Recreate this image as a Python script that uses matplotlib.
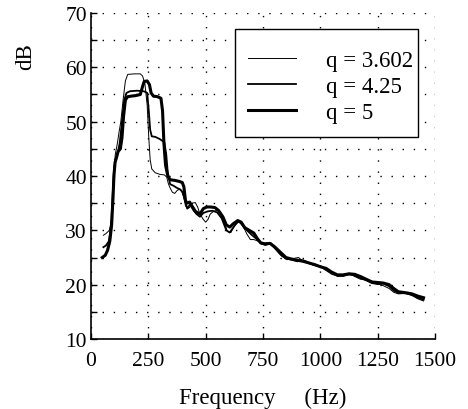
import numpy as np
import matplotlib.pyplot as plt
from matplotlib.ticker import MultipleLocator
from matplotlib.patches import Rectangle

# --- dados (frequência em Hz, nível em dB) ---
f_q3602 = [54, 65, 80, 90, 96, 100, 106, 115, 122, 130, 140, 150, 160, 190, 215, 225, 235, 245, 252, 258,
           265, 280, 300, 320, 330, 338, 345, 355, 365, 375, 385, 395, 405, 412, 420, 430, 440, 455, 465, 475,
           490, 500, 510, 520, 535, 550, 565, 580, 595, 610, 625, 645, 665, 680, 695, 710, 730, 745, 765, 785,
           805, 830, 855, 880, 905, 925, 950, 975, 1000, 1025, 1050, 1075, 1100, 1125, 1150, 1175, 1200, 1225,
           1250, 1275, 1300, 1320, 1340, 1375, 1400, 1425, 1450]
db_q3602 = [29.1, 29.4, 30, 32, 36, 41, 44, 46, 48, 50, 54, 57.5, 58.7, 58.8, 58.8, 58.4, 57, 53, 47, 43,
            41.3, 40.6, 40.3, 40.2, 39.8, 38.5, 37.8, 37, 36.8, 37.3, 37.6, 37.2, 36, 34.5, 34, 34.2, 35, 35.1, 34.3, 33,
            32, 31.5, 32, 33, 33.5, 33.7, 33.4, 31.5, 29.8, 29.6, 30.8, 31.6, 30.6, 29.3, 28.3, 28.3, 28, 27.5, 27.7, 27.7,
            26.8, 25.3, 24.6, 24.8, 25, 24.3, 23.9, 23.5, 23.3, 22.6, 21.9, 21.6, 21.9, 22.1, 21.5, 21, 20.9, 20.6,
            20.2, 19.8, 19.3, 18.6, 18.3, 18.4, 18, 17.4, 17.0]

f_q425 = [54, 65, 78, 88, 95, 100, 106, 115, 125, 135, 145, 155, 170, 200, 230, 245, 252, 258, 265, 280,
          300, 320, 328, 335, 345, 360, 375, 390, 400, 410, 420, 432, 445, 460, 475, 490, 510, 530, 550, 570,
          590, 605, 620, 640, 660, 680, 700, 720, 740, 760, 780, 800, 825, 850, 875, 900, 925, 950, 975, 1000,
          1025, 1050, 1075, 1100, 1125, 1150, 1175, 1200, 1225, 1250, 1275, 1300, 1320, 1340, 1375, 1400, 1425, 1450]
db_q425 = [26.9, 27.2, 28, 31, 37, 41, 43, 44, 46, 50, 54, 55.3, 55.6, 55.7, 55.6, 55.3, 52, 48.5, 47.3, 47.2,
           46.8, 46.2, 44, 40.5, 38.5, 38.2, 37.8, 37.5, 37, 35.5, 34, 34.8, 33.8, 33, 32.5, 33.2, 33.5, 33.6, 33.3, 32.2,
           30, 29.6, 30.5, 31.7, 31.2, 30, 29.2, 28.5, 27.6, 27.3, 27.6, 26.8, 25.6, 24.8, 24.6, 24.3, 24.5, 24, 23.6, 23.4,
           22.8, 22.2, 21.6, 21.6, 21.9, 21.7, 21.2, 20.8, 20.3, 20.1, 20.2, 19.7, 18.9, 18.5, 18.4, 18.1, 17.6, 17.2]

f_q5 = [49, 62, 72, 82, 90, 96, 100, 105, 112, 118, 128, 135, 142, 150, 160, 175, 195, 215, 225, 232,
        245, 255, 262, 272, 290, 305, 312, 318, 325, 335, 345, 365, 385, 398, 405, 412, 418, 430, 440, 455,
        475, 490, 505, 520, 540, 555, 575, 590, 605, 620, 640, 655, 670, 690, 710, 725, 740, 760, 780, 800,
        825, 850, 875, 900, 925, 950, 975, 1000, 1025, 1050, 1075, 1100, 1125, 1150, 1175, 1200, 1225, 1250,
        1275, 1300, 1320, 1340, 1375, 1400, 1425, 1450]
db_q5 = [25.0, 25.4, 26.3, 28, 31, 36, 40, 42.5, 43.5, 44.5, 45, 47, 51, 54, 54.6, 54.7, 54.8, 55, 56.5, 57.4,
         57.5, 56.8, 55.3, 54.7, 54.6, 54.3, 52, 46, 42, 40, 39.3, 39.2, 39, 38.8, 38, 35.5, 35, 35.2, 34.5, 33.5,
         33, 34, 34.3, 34.3, 34.2, 33.7, 32.5, 31, 30.6, 31.2, 31.8, 31.5, 30.5, 30, 29.5, 28.5, 27.7, 27.5, 27.6, 27,
         26, 25, 24.7, 24.5, 24.3, 24, 23.7, 23.3, 23, 22.3, 21.8, 21.8, 22, 21.9, 21.5, 21, 20.5, 20.4,
         20.3, 20, 19.3, 18.7, 18.5, 18.3, 17.9, 17.6]

labels = ['q = 3.602', 'q = 4.25', 'q = 5']
xticks = [0, 250, 500, 750, 1000, 1250, 1500]
yticks = [10, 20, 30, 40, 50, 60, 70]

plt.rcParams['font.family'] = ['Liberation Serif', 'DejaVu Serif']
plt.rcParams['font.size'] = 15.5

fig = plt.figure(figsize=(4.68, 4.10), dpi=100)
ax = fig.add_axes([91 / 468, 1 - 340 / 410, 344 / 468, 326 / 410])

ax.plot(f_q3602, db_q3602, color='black', lw=0.7, label=labels[0])
ax.plot(f_q425, db_q425, color='black', lw=1.3, label=labels[1])
ax.plot(f_q5, db_q5, color='black', lw=2.2, label=labels[2])

ax.set_xlim(0, 1500)
ax.set_ylim(10, 70)
ax.set_xticks(xticks)
ax.set_yticks(yticks)
ax.yaxis.set_minor_locator(MultipleLocator(5))

# grelha pontilhada, como no original
ax.grid(True, which='both', color='black', linestyle=(0, (1, 7)), linewidth=1.0)
ax.set_axisbelow(True)

ax.spines['top'].set_visible(False)
ax.spines['right'].set_visible(False)
ax.spines['left'].set_linewidth(1.2)
ax.spines['bottom'].set_linewidth(1.2)
ax.tick_params(which='both', direction='in', length=4, width=1)
ax.tick_params(axis='x', pad=9)
ax.tick_params(axis='y', pad=3)

ax.set_xlabel('Frequency     (Hz)', fontsize=16.5, labelpad=12)
ax.set_ylabel('dB', fontsize=16.5)
ax.yaxis.set_label_coords(-0.16, 0.87)

# legenda sem moldura + retângulo desenhado à parte (margens assimétricas do original)
leg = ax.legend(loc='upper left', bbox_to_anchor=(0.456, 0.887), fontsize=16.5,
                handlelength=2.1, handletextpad=1.3, labelspacing=0.21,
                borderpad=0, borderaxespad=0, frameon=False)
ax.add_patch(Rectangle((0.4186, 0.6196), 0.532, 0.331, transform=ax.transAxes,
                       facecolor='white', edgecolor='black', lw=1.0, zorder=4))
leg.set_zorder(5)

fig.savefig('out.png', dpi=100)
